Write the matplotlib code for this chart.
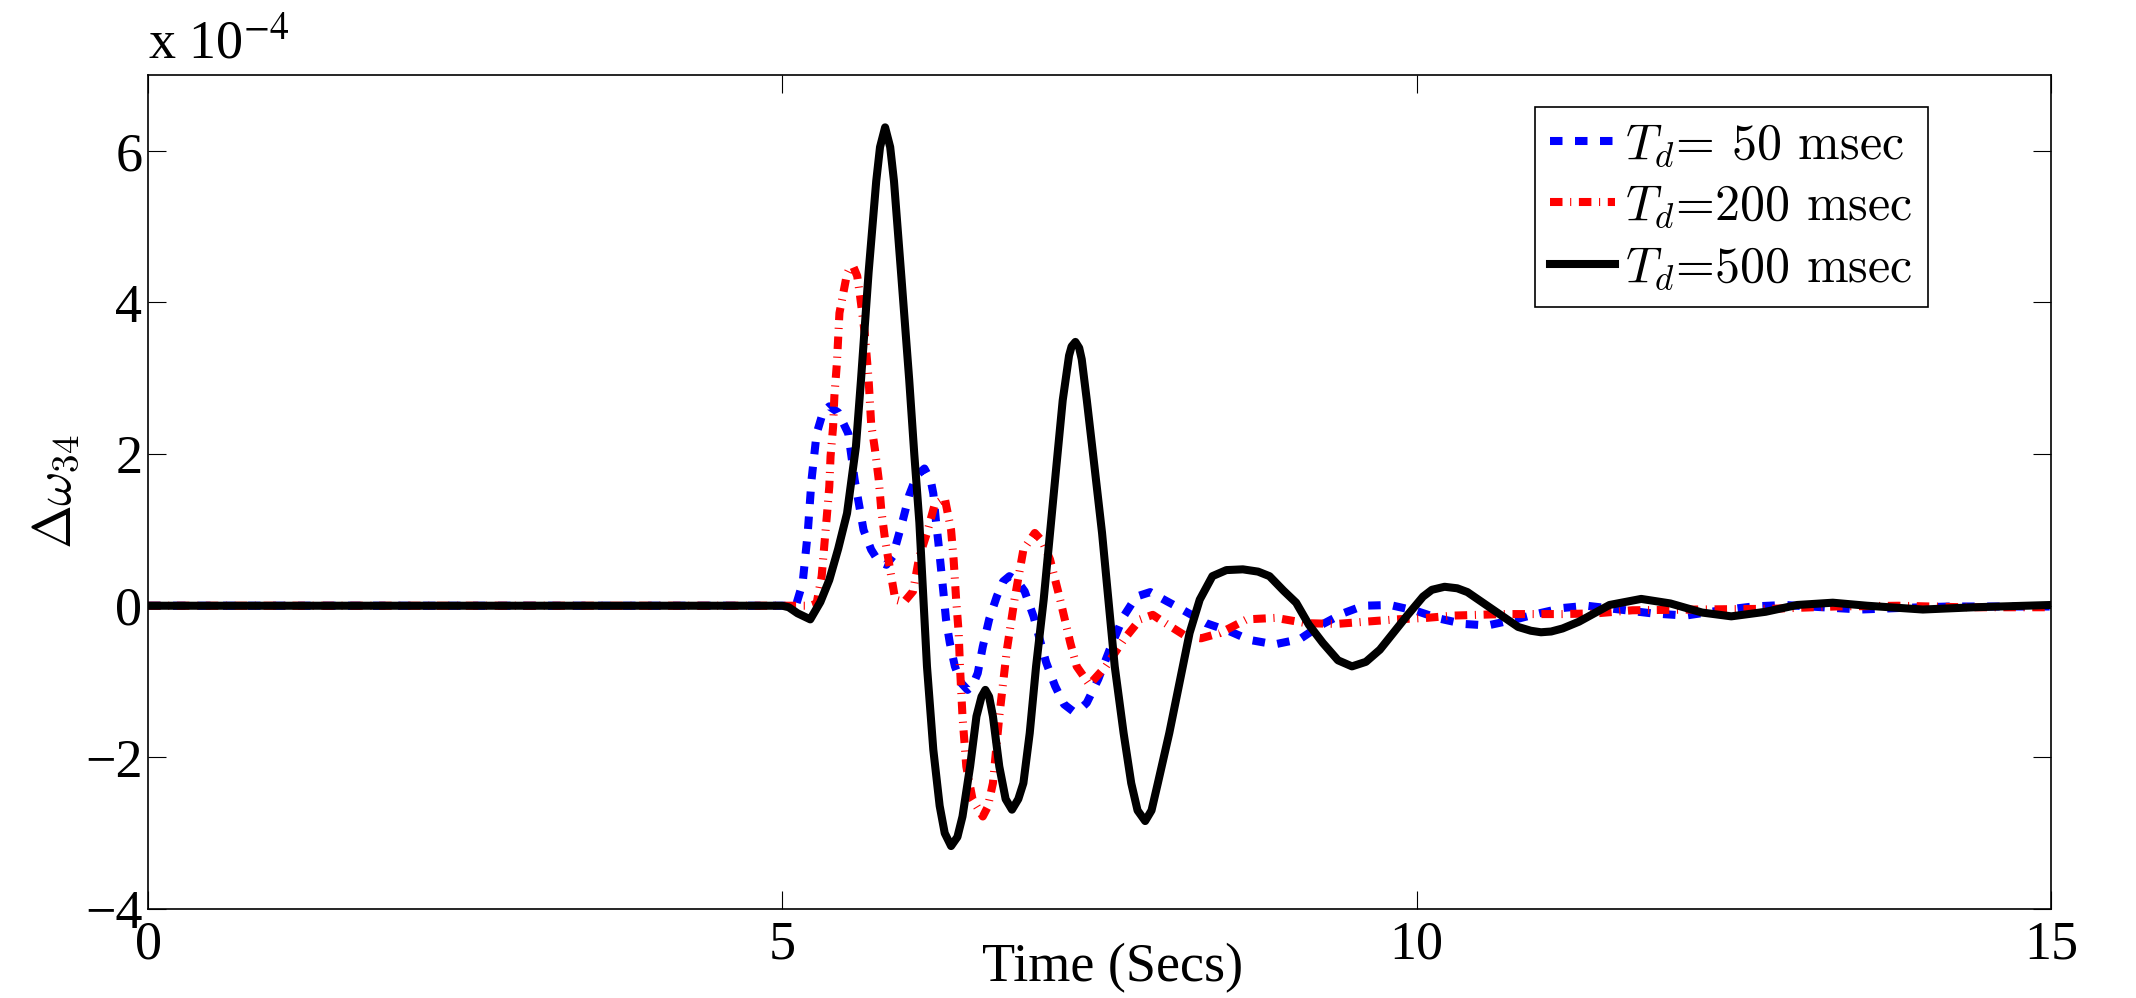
import matplotlib
matplotlib.use('Agg')
import matplotlib.pyplot as plt

# time (s) and delta omega_34 (x 1e-4)
t_50 = [0, 5.08, 5.11, 5.16, 5.20, 5.23, 5.27, 5.32, 5.37, 5.44, 5.52, 5.57, 5.64, 5.70,
        5.76, 5.82, 5.87, 5.90, 5.95, 6.00, 6.06, 6.12, 6.17, 6.19, 6.21, 6.23, 6.25,
        6.27, 6.29, 6.32, 6.36, 6.41, 6.46, 6.50, 6.54, 6.58, 6.63, 6.69, 6.74, 6.79,
        6.85, 6.91, 6.98, 7.03, 7.08, 7.15, 7.22, 7.29, 7.35, 7.40, 7.49, 7.58, 7.69,
        7.79, 7.90, 8.03, 8.13, 8.34, 8.53, 8.68, 8.88, 9.08, 9.24, 9.42, 9.58, 9.79,
        10.0, 10.18, 10.37, 10.56, 10.78, 10.94, 11.15, 11.34, 11.6, 11.85, 12.12, 12.4,
        12.65, 12.9, 13.2, 13.5, 13.8, 14.2, 15.0]
dw_50 = [0, 0, 0.02, 0.30, 0.96, 1.66, 2.27, 2.55, 2.63, 2.55, 2.27, 1.66, 1.00, 0.74,
         0.58, 0.54, 0.65, 0.83, 1.13, 1.46, 1.72, 1.81, 1.65, 1.48, 1.13, 0.83, 0.50,
         0.17, -0.18, -0.49, -0.80, -1.02, -1.11, -1.05, -0.89, -0.54, -0.18, 0.12, 0.32, 0.39,
         0.33, 0.19, -0.14, -0.45, -0.75, -1.06, -1.30, -1.39, -1.36, -1.28, -0.97, -0.58, -0.14,
         0.12, 0.18, 0.06, -0.03, -0.23, -0.34, -0.45, -0.51, -0.44, -0.26, -0.10, 0.0, 0.01,
         -0.07, -0.17, -0.24, -0.26, -0.18, -0.11, -0.03, 0.0, -0.05, -0.10, -0.13, -0.06,
         -0.01, 0.01, -0.02, -0.05, -0.03, -0.01, -0.01]

t_200 = [0, 5.22, 5.27, 5.31, 5.33, 5.35, 5.37, 5.38, 5.40, 5.41, 5.43, 5.45, 5.51, 5.53,
         5.56, 5.59, 5.61, 5.65, 5.68, 5.70, 5.73, 5.76, 5.78, 5.81, 5.85, 5.89, 5.96,
         6.03, 6.08, 6.14, 6.20, 6.28, 6.33, 6.35, 6.37, 6.39, 6.40, 6.42, 6.45, 6.50,
         6.58, 6.62, 6.66, 6.71, 6.77, 6.83, 6.90, 6.99, 7.05, 7.11, 7.19, 7.27, 7.32,
         7.42, 7.55, 7.69, 7.82, 7.92, 8.0, 8.18, 8.30, 8.45, 8.66, 8.89, 9.13, 9.37,
         9.60, 9.84, 10.08, 10.29, 10.68, 11.15, 11.42, 11.7, 12.2, 12.8, 13.3, 13.8, 14.3, 15.0]
dw_200 = [0, 0, 0.03, 0.39, 0.78, 1.17, 1.57, 1.97, 2.36, 2.76, 3.20, 3.86, 4.38, 4.45,
          4.47, 4.35, 4.12, 3.59, 2.98, 2.40, 2.06, 1.66, 1.26, 0.87, 0.47, 0.08, 0.05,
          0.19, 0.65, 0.96, 1.33, 1.42, 1.00, 0.61, 0.08, -0.36, -0.80, -1.46, -2.12, -2.56,
          -2.78, -2.65, -2.34, -1.46, -0.58, 0.08, 0.74, 0.96, 0.85, 0.61, 0.08, -0.49, -0.80,
          -1.04, -0.80, -0.45, -0.18, -0.12, -0.21, -0.40, -0.43, -0.36, -0.18, -0.16, -0.23, -0.24,
          -0.21, -0.18, -0.16, -0.13, -0.11, -0.11, -0.10, -0.06, -0.05, -0.04, -0.01, 0.0, -0.02, -0.02]

t_500 = [0, 5.0, 5.05, 5.12, 5.22, 5.30, 5.37, 5.44, 5.51, 5.58, 5.62, 5.68, 5.74, 5.77,
         5.81, 5.85, 5.88, 5.94, 6.00, 6.04, 6.08, 6.14, 6.19, 6.24, 6.28, 6.33, 6.38,
         6.42, 6.48, 6.53, 6.57, 6.60, 6.63, 6.66, 6.71, 6.76, 6.81, 6.86, 6.90, 6.95,
         7.00, 7.06, 7.11, 7.16, 7.21, 7.26, 7.28, 7.31, 7.34, 7.36, 7.40, 7.46, 7.52,
         7.57, 7.62, 7.69, 7.75, 7.80, 7.86, 7.91, 7.96, 8.05, 8.13, 8.21, 8.29, 8.39,
         8.50, 8.63, 8.75, 8.84, 8.95, 9.05, 9.15, 9.26, 9.38, 9.49, 9.60, 9.71, 9.82,
         9.92, 10.05, 10.12, 10.22, 10.32, 10.40, 10.60, 10.80, 10.90, 10.98, 11.06, 11.15,
         11.28, 11.52, 11.77, 12.0, 12.25, 12.48, 12.75, 13.0, 13.28, 13.55, 13.99, 14.4, 15.0]
dw_500 = [0, 0, -0.02, -0.10, -0.18, 0.05, 0.34, 0.75, 1.22, 2.10, 2.98, 4.40, 5.60, 6.05,
          6.31, 6.05, 5.60, 4.30, 2.98, 2.00, 1.10, -0.80, -1.90, -2.64, -3.00, -3.17, -3.05,
          -2.78, -2.12, -1.46, -1.20, -1.11, -1.20, -1.46, -2.12, -2.55, -2.69, -2.55, -2.34, -1.68,
          -0.80, 0.08, 0.96, 1.84, 2.71, 3.30, 3.42, 3.48, 3.40, 3.25, 2.71, 1.84, 0.96,
          0.08, -0.80, -1.68, -2.34, -2.70, -2.84, -2.70, -2.34, -1.68, -1.02, -0.36, 0.08, 0.39,
          0.47, 0.48, 0.45, 0.39, 0.20, 0.04, -0.25, -0.49, -0.72, -0.80, -0.74, -0.58, -0.35,
          -0.14, 0.12, 0.21, 0.25, 0.23, 0.18, -0.05, -0.28, -0.33, -0.35, -0.34, -0.30,
          -0.21, 0.01, 0.09, 0.03, -0.09, -0.14, -0.08, 0.01, 0.04, 0.0, -0.05, -0.02, 0.01]

labels = [r'$T_d$' + '= 50 msec', r'$T_d$' + '=200 msec', r'$T_d$' + '=500 msec']

plt.rcParams['font.family'] = 'Liberation Serif'
plt.rcParams['lines.scale_dashes'] = False

fig = plt.figure(figsize=(21.36, 9.98), dpi=100)
ax = fig.add_axes([0.0693, 0.0892, 0.8909, 0.8356])

ax.plot(t_50, dw_50, color='blue', lw=5.8, dashes=(9, 9), label=labels[0])
ax.plot(t_200, dw_200, color='red', lw=5.8, dashes=(9, 5.5, 0.8, 5.5), label=labels[1])
ax.plot(t_500, dw_500, color='black', lw=5.8, label=labels[2])

ax.set_xlim(0, 15)
ax.set_ylim(-4, 7)
ax.set_xticks([0, 5, 10, 15])
ax.set_yticks([-4, -2, 0, 2, 4, 6])
ax.tick_params(direction='in', length=13, width=0.8, labelsize=39, top=True, right=True)
ax.tick_params(axis='x', pad=8)
ax.tick_params(axis='y', pad=4)
for s in ax.spines.values():
    s.set_linewidth(1.2)

ax.set_xlabel('Time (Secs)', fontsize=39)
ax.xaxis.set_label_coords(0.507, -0.04)
ax.set_ylabel(r'$\Delta\omega_{34}$', fontsize=38, math_fontfamily='cm')
ax.yaxis.set_label_coords(-0.035, 0.5)

ax.text(0, 1.005, r'x 10$^{-4}$', transform=ax.transAxes, fontsize=39,
        math_fontfamily='stix', va='bottom', ha='left')

leg = ax.legend(loc='upper right', bbox_to_anchor=(0.9352, 0.962), fancybox=False,
                framealpha=1, edgecolor='black', handlelength=1.3, handletextpad=0.2,
                borderpad=0.3, labelspacing=0.3, borderaxespad=0,
                prop={'family': 'cmr10', 'size': 36, 'math_fontfamily': 'cm'})
leg.get_frame().set_linewidth(1.2)

fig.savefig('out.png', dpi=100)
